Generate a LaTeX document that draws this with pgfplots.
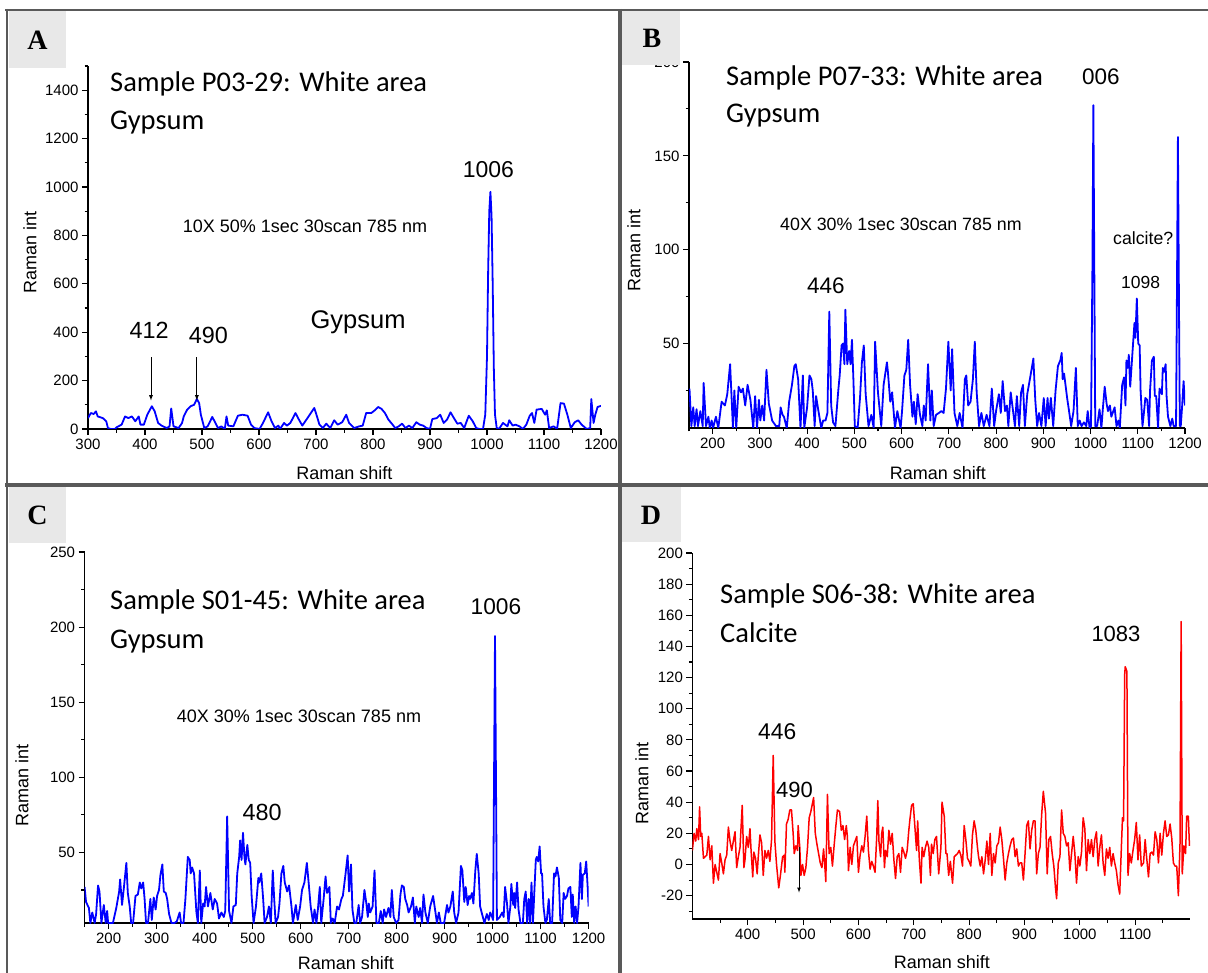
\documentclass[border=0pt]{standalone}
\usepackage{fontspec}
\setmainfont{Liberation Sans}
\newfontfamily\calibri{Carlito}
\newfontfamily\serifface{Liberation Serif}
\usepackage{pgfplots}
\pgfplotsset{compat=1.18}
\definecolor{framegray}{HTML}{595959}
\definecolor{boxgray}{HTML}{E8E8E8}
\pgfplotsset{panel/.style={
  scale only axis, anchor=south west,
  axis x line*=bottom, axis y line*=left,
  axis line style={-, line width=1.3pt, black},
  tick align=outside,
  major tick length=6pt, minor tick length=3.5pt,
  tick style={black, line width=1.1pt},
  ticklabel style={font=\fontsize{15}{15}\selectfont, text=black},
  /pgf/number format/assume math mode=true,
  /pgf/number format/1000 sep={},
  every axis plot/.append style={line width=1.8pt, line join=round, mark=none},
}}
\begin{document}
\begin{tikzpicture}
\path[use as bounding box] (0pt,0pt) rectangle (1208pt,-973pt);

% ---------------- Panel A ----------------
\begin{axis}[panel, at={(88pt,-429pt)}, width=513pt, height=363pt,
  xmin=300, xmax=1200, ymin=0, ymax=1500,
  xtick={300,400,...,1200}, minor xtick={350,450,...,1150},
  ytick={0,200,...,1400}, minor ytick={100,300,...,1500}]
\addplot[blue] coordinates {(300,45)(305,66)(310,62)(314,73)(317,52)(326,45)(332,32)(335,4)(340,0)(347,0)(350,7)(359,18)(365,52)(371,45)(377,52)(383,32)(389,52)(392,18)(398,18)(404,59)(412,94)(417,73)(423,25)(429,14)(438,4)(443,10)(446,85)(450,11)(459,4)(465,25)(468,52)(474,80)(480,94)(486,100)(491,124)(495,107)(498,59)(504,4)(510,11)(518,50)(522,32)(528,4)(534,11)(540,0)(543,52)(546,14)(555,11)(563,55)(571,59)(580,55)(586,18)(592,4)(601,0)(607,25)(616,69)(622,32)(628,4)(634,14)(637,0)(644,25)(649,14)(655,25)(664,66)(670,39)(676,14)(685,45)(693,73)(697,87)(702,50)(706,18)(712,4)(718,22)(725,4)(732,36)(738,18)(746,28)(753,59)(758,25)(767,4)(776,11)(782,14)(788,66)(797,66)(803,77)(809,91)(815,83)(821,66)(827,39)(833,22)(839,4)(845,11)(851,22)(857,4)(863,14)(869,4)(876,28)(882,18)(888,14)(894,4)(900,0)(904,41)(912,45)(918,59)(924,25)(930,39)(936,69)(942,45)(948,22)(954,25)(960,4)(968,55)(975,32)(981,4)(987,0)(993,0)(997,60)(1000,300)(1002,650)(1004,900)(1006,980)(1008,880)(1010,600)(1012,250)(1014,60)(1017,5)(1021,0)(1028,25)(1036,11)(1039,36)(1045,14)(1050,18)(1057,11)(1063,0)(1069,18)(1075,55)(1079,66)(1083,25)(1087,80)(1096,83)(1102,59)(1105,77)(1109,4)(1117,11)(1123,0)(1129,107)(1135,105)(1141,59)(1147,4)(1154,28)(1160,36)(1166,18)(1175,0)(1181,4)(1183,124)(1187,25)(1190,59)(1194,91)(1198,94)(1200,96)};
\draw[-latex, line width=0.8pt] (axis cs:410.5,296) -- (axis cs:410.5,118);
\draw[-latex, line width=0.8pt] (axis cs:491,296) -- (axis cs:491,118);
\end{axis}

% ---------------- Panel B ----------------
\begin{axis}[panel, at={(689pt,-428pt)}, width=496pt, height=366pt,
  xmin=150, xmax=1200, ymin=5, ymax=200,
  xtick={200,300,...,1200}, minor xtick={150,250,...,1150},
  ytick={50,100,150,200}, minor ytick={25,75,125,175}]
\addplot[blue] coordinates {(151,26)(155,6)(159,16)(162,6)(166,15)(169,6)(174,14)(179,6)(181,29)(186,6)(191,11)(194,5)(198,9)(201,5)(207,11)(212,5)(219,19)(226,17)(231,23)(237,39)(243,5)(246,25)(250,5)(255,27)(260,24)(264,26)(269,17)(274,28)(280,20)(286,5)(290,22)(294,5)(298,20)(301,9)(305,17)(309,9)(314,36)(319,18)(326,9)(334,6)(341,6)(344,16)(348,12)(351,11)(357,5)(362,19)(368,28)(373,38)(376,39)(381,31)(386,5)(391,33)(394,5)(400,16)(405,33)(409,31)(412,25)(416,6)(419,22)(424,14)(430,5)(434,9)(439,9)(443,13)(447,67)(451,17)(455,8)(460,6)(466,25)(469,33)(473,49)(476,50)(479,39)(481,68)(485,39)(489,46)(492,39)(495,52)(498,31)(501,6)(507,5)(512,21)(516,40)(520,49)(524,23)(530,6)(536,12)(541,5)(544,51)(550,24)(557,6)(562,28)(569,40)(571,35)(576,19)(580,24)(586,5)(591,14)(598,5)(601,14)(606,33)(610,36)(614,52)(618,28)(623,11)(626,19)(630,7)(634,23)(639,12)(644,6)(647,17)(651,9)(656,39)(661,9)(664,25)(668,6)(673,12)(679,13)(684,14)(689,13)(694,26)(699,51)(704,25)(707,47)(712,13)(718,6)(723,13)(729,5)(734,31)(737,33)(741,17)(746,19)(751,31)(755,51)(759,24)(764,6)(769,13)(774,6)(780,12)(786,6)(791,26)(796,6)(800,14)(806,23)(810,13)(814,30)(819,14)(823,17)(826,6)(831,24)(836,14)(840,6)(844,22)(849,6)(853,24)(857,28)(861,6)(866,23)(873,33)(879,42)(883,20)(887,6)(891,13)(896,6)(901,21)(905,6)(909,21)(912,10)(916,21)(921,6)(926,25)(931,38)(936,41)(939,45)(941,31)(944,34)(948,26)(951,20)(954,15)(959,6)(964,14)(969,37)(973,6)(977,9)(981,6)(986,8)(991,6)(994,14)(998,5)(1001,6)(1004,90)(1006,177)(1008,90)(1010,6)(1014,6)(1019,15)(1023,5)(1026,15)(1030,27)(1034,18)(1037,14)(1041,17)(1044,11)(1051,16)(1055,6)(1059,9)(1062,5)(1067,28)(1071,32)(1074,17)(1076,41)(1079,37)(1081,44)(1084,27)(1089,46)(1093,61)(1095,53)(1098,74)(1101,50)(1104,49)(1106,25)(1110,6)(1113,13)(1116,21)(1120,20)(1124,6)(1126,25)(1130,41)(1134,43)(1136,22)(1139,22)(1143,5)(1146,26)(1151,23)(1153,37)(1156,35)(1159,39)(1161,22)(1164,11)(1169,6)(1173,10)(1176,6)(1181,6)(1183,80)(1185,160)(1187,80)(1189,6)(1191,6)(1194,17)(1197,30)(1200,17)};
\end{axis}

% ---------------- Panel C ----------------
\begin{axis}[panel, at={(84.6pt,-923pt)}, width=504pt, height=371pt,
  xmin=150, xmax=1200, ymin=3, ymax=250,
  xtick={200,300,...,1200}, minor xtick={150,250,...,1150},
  ytick={50,100,...,250}, minor ytick={25,75,...,225}]
\addplot[blue] coordinates {(150,27)(153,17)(159,13)(162,3)(166,10)(171,3)(174,9)(178,28)(181,24)(185,3)(190,15)(194,3)(197,11)(199,3)(209,3)(216,13)(222,24)(224,32)(228,15)(232,27)(237,43)(240,23)(244,14)(247,3)(251,3)(256,21)(261,22)(265,30)(268,26)(272,30)(275,19)(278,3)(282,3)(287,19)(290,5)(294,20)(298,12)(301,21)(305,25)(308,35)(312,42)(315,24)(319,23)(322,19)(326,9)(331,3)(337,3)(342,4)(348,10)(351,3)(356,3)(360,19)(365,47)(369,45)(371,36)(374,40)(378,36)(383,10)(386,3)(390,38)(393,3)(397,16)(400,14)(403,27)(407,14)(412,23)(417,12)(421,19)(426,16)(430,6)(435,10)(440,7)(443,11)(447,74)(451,11)(456,3)(460,14)(465,15)(468,36)(472,47)(474,58)(477,45)(480,63)(483,47)(485,42)(489,55)(492,45)(495,43)(498,21)(502,3)(507,14)(512,33)(514,30)(518,36)(522,19)(525,3)(530,7)(534,14)(538,3)(542,38)(545,19)(548,3)(553,7)(556,16)(560,36)(564,41)(567,30)(572,24)(576,28)(581,14)(584,3)(590,15)(594,5)(599,14)(603,25)(608,30)(613,43)(617,29)(621,14)(626,3)(629,12)(633,3)(636,12)(640,27)(643,3)(648,19)(652,34)(655,23)(660,27)(663,3)(667,6)(671,3)(676,14)(680,12)(685,19)(688,21)(693,34)(698,48)(701,24)(705,42)(708,12)(712,3)(716,3)(721,15)(724,3)(728,7)(733,25)(737,16)(740,7)(742,16)(745,10)(750,14)(754,38)(758,3)(763,3)(767,11)(771,3)(774,12)(778,7)(783,13)(787,7)(790,25)(794,7)(799,3)(804,5)(808,22)(811,28)(815,27)(818,19)(822,15)(825,10)(830,14)(834,20)(838,3)(841,14)(846,7)(849,13)(853,3)(856,22)(860,10)(865,3)(870,14)(876,21)(881,10)(884,3)(888,10)(892,3)(899,3)(905,15)(908,10)(912,14)(917,24)(920,10)(924,3)(929,10)(934,41)(937,38)(941,17)(944,27)(948,15)(951,21)(953,19)(957,23)(960,16)(964,38)(967,49)(971,36)(974,14)(978,9)(983,3)(988,9)(992,5)(995,10)(999,7)(1001,5)(1003,100)(1005,194)(1007,100)(1009,5)(1015,7)(1020,10)(1023,7)(1026,27)(1030,16)(1033,3)(1037,14)(1039,29)(1043,15)(1045,23)(1047,13)(1051,30)(1054,12)(1058,3)(1063,3)(1066,19)(1069,24)(1072,3)(1075,19)(1078,3)(1081,30)(1084,3)(1090,45)(1092,47)(1095,44)(1098,54)(1101,36)(1103,36)(1106,14)(1110,3)(1113,5)(1117,19)(1120,3)(1124,3)(1128,36)(1131,34)(1134,40)(1138,33)(1141,5)(1145,3)(1148,23)(1151,19)(1155,21)(1158,26)(1162,27)(1165,7)(1167,22)(1170,3)(1173,14)(1176,3)(1179,14)(1183,43)(1186,19)(1188,35)(1192,36)(1195,44)(1198,27)(1200,14)};
\end{axis}

% ---------------- Panel D ----------------
\begin{axis}[panel, at={(692.4pt,-919pt)}, width=497.6pt, height=366pt,
  xmin=300, xmax=1199, ymin=-35, ymax=200,
  xtick={400,500,...,1100}, minor xtick={350,450,...,1150},
  ytick={-20,0,...,200}, minor ytick={-30,-10,...,190},
  every axis plot/.append style={line width=1.5pt}]
\addplot[red] coordinates {(300,9)(303,20)(306,15)(308,23)(311,16)(313,37)(315,18)(317,20)(320,4)(323,5)(326,6)(329,18)(332,3)(335,12)(338,-12)(341,0)(344,-5)(347,-10)(350,7)(353,1)(356,-6)(359,3)(362,6)(365,24)(368,15)(371,9)(374,15)(377,21)(380,-2)(383,5)(386,11)(390,38)(393,-2)(395,3)(398,18)(401,11)(404,23)(406,9)(409,-8)(411,8)(414,4)(417,-6)(419,5)(422,19)(425,14)(428,-7)(431,9)(434,4)(437,9)(440,2)(443,16)(446,70)(449,15)(452,0)(456,-15)(459,-7)(463,5)(466,6)(467,-5)(470,26)(473,29)(476,35)(479,35)(482,20)(484,7)(487,12)(490,9)(491,25)(494,11)(496,-7)(499,0)(502,-7)(505,-2)(508,11)(511,30)(514,34)(519,43)(522,20)(525,13)(528,7)(531,1)(534,-2)(537,10)(540,-5)(541,-11)(544,45)(547,7)(550,11)(553,-1)(556,12)(559,24)(562,35)(566,34)(569,22)(572,25)(575,16)(578,25)(580,18)(582,-4)(585,11)(588,0)(591,12)(594,15)(597,18)(600,-5)(603,6)(606,12)(609,8)(612,18)(615,31)(618,9)(621,-3)(624,2)(627,-1)(630,-5)(633,18)(635,41)(637,15)(640,5)(642,20)(644,24)(647,-2)(649,9)(652,5)(655,22)(658,13)(661,20)(664,3)(667,-9)(670,5)(673,7)(676,-5)(679,11)(682,8)(685,4)(688,9)(691,22)(693,29)(696,38)(699,39)(702,24)(705,9)(707,28)(710,3)(713,-12)(715,11)(718,5)(721,11)(724,15)(727,11)(730,-7)(732,13)(735,7)(738,16)(741,18)(745,-6)(749,11)(751,40)(755,31)(758,7)(760,7)(763,-7)(766,2)(770,-12)(773,5)(776,6)(779,7)(782,9)(785,6)(788,-1)(791,25)(794,16)(797,4)(800,2)(803,-1)(806,19)(809,28)(812,22)(815,11)(817,5)(820,-1)(823,5)(826,-6)(829,3)(832,15)(835,0)(838,20)(841,-7)(844,7)(847,1)(850,12)(853,14)(856,24)(859,16)(862,4)(865,-10)(868,1)(871,7)(874,12)(877,16)(880,17)(883,5)(886,10)(889,-1)(892,1)(895,1)(898,-10)(901,7)(904,25)(907,28)(910,10)(913,22)(916,28)(919,28)(922,-6)(925,7)(928,11)(931,32)(934,47)(938,33)(941,-6)(944,16)(947,18)(950,7)(953,-1)(956,-15)(958,-22)(961,1)(964,5)(967,35)(970,20)(973,18)(976,12)(979,14)(982,-4)(985,7)(988,18)(991,7)(994,-12)(997,5)(1000,-1)(1003,8)(1006,30)(1009,23)(1012,-4)(1015,16)(1018,7)(1021,16)(1024,5)(1027,16)(1030,21)(1033,-1)(1036,11)(1039,19)(1042,1)(1045,-7)(1048,10)(1051,4)(1054,11)(1057,-1)(1060,7)(1063,1)(1066,-4)(1069,-13)(1072,-19)(1075,11)(1077,30)(1079,28)(1081,122)(1082,127)(1085,124)(1087,-7)(1090,7)(1093,1)(1096,9)(1099,16)(1102,27)(1105,3)(1108,19)(1111,-1)(1115,1)(1118,16)(1120,7)(1124,-8)(1127,7)(1130,8)(1133,6)(1136,21)(1139,16)(1142,1)(1145,20)(1148,6)(1151,20)(1154,28)(1157,18)(1160,19)(1163,26)(1166,17)(1169,1)(1172,-1)(1175,-1)(1178,-20)(1181,14)(1183,156)(1185,-6)(1188,12)(1191,7)(1193,31)(1196,31)(1198,12)};
\draw[-latex, line width=0.7pt] (axis cs:492.6,11) -- (axis cs:492.6,-18);
\end{axis}

% ---------------- frames, labels, texts ----------------
\begin{scope}[x=1pt,y=-1pt]
\draw[framegray, line width=2.5pt] (5,10) -- (1212,10);
\draw[framegray, line width=2.5pt] (7,9) -- (7,980);
\draw[framegray, line width=3.5pt] (620,9) -- (620,980);
\draw[framegray, line width=3pt] (5,485) -- (1212,485);
\fill[boxgray] (8.5,11.5) rectangle (66,68);
\fill[boxgray] (622,11.5) rectangle (680,65);
\fill[boxgray] (8.5,487) rectangle (66,543);
\fill[boxgray] (622,487) rectangle (681,542);
\node[font=\fontsize{28}{28}\selectfont\serifface\bfseries] at (37.5,40) {A};
\node[font=\fontsize{28}{28}\selectfont\serifface\bfseries] at (652,38) {B};
\node[font=\fontsize{28}{28}\selectfont\serifface\bfseries] at (37.5,515) {C};
\node[font=\fontsize{28}{28}\selectfont\serifface\bfseries] at (651,515) {D};

% axis labels
\node[rotate=90, font=\fontsize{18}{18}\selectfont] at (30,252) {Raman int};
\node[font=\fontsize{18}{18}\selectfont] at (344.5,473) {Raman shift};
\node[rotate=90, font=\fontsize{18}{18}\selectfont] at (634,250) {Raman int};
\node[font=\fontsize{18}{18}\selectfont] at (938,473) {Raman shift};
\node[rotate=90, font=\fontsize{18}{18}\selectfont] at (22,785) {Raman int};
\node[font=\fontsize{18}{18}\selectfont] at (346,963) {Raman shift};
\node[rotate=90, font=\fontsize{18}{18}\selectfont] at (642,783) {Raman int};
\node[font=\fontsize{18}{18}\selectfont] at (942,962) {Raman shift};

% panel A texts
\node[anchor=base west, inner sep=0, font=\fontsize{28.5}{30}\selectfont\calibri] at (110,92) {Sample P03-29: White area};
\node[anchor=base west, inner sep=0, font=\fontsize{28.5}{30}\selectfont\calibri] at (110,130) {Gypsum};
\node[anchor=base west, inner sep=0, font=\fontsize{23}{23}\selectfont] at (462.6,177.3) {1006};
\node[anchor=base west, inner sep=0, font=\fontsize{18}{18}\selectfont] at (182.7,232.3) {10X 50\% 1sec 30scan 785 nm};
\node[anchor=base west, inner sep=0, font=\fontsize{25.5}{25.5}\selectfont] at (310.4,328.3) {Gypsum};
\node[anchor=base west, inner sep=0, font=\fontsize{23.4}{23.4}\selectfont] at (129.3,339) {412};
\node[anchor=base west, inner sep=0, font=\fontsize{23.4}{23.4}\selectfont] at (188.6,344) {490};

% panel B texts
\node[anchor=base west, inner sep=0, font=\fontsize{28.5}{30}\selectfont\calibri] at (726,86) {Sample P07-33: White area};
\node[anchor=base west, inner sep=0, font=\fontsize{28.5}{30}\selectfont\calibri] at (726,123) {Gypsum};
\node[anchor=base west, inner sep=0, font=\fontsize{22.5}{22.5}\selectfont] at (1082,85) {006};
\node[anchor=base west, inner sep=0, font=\fontsize{17.8}{17.8}\selectfont] at (780,230.7) {40X 30\% 1sec 30scan 785 nm};
\node[anchor=base west, inner sep=0, font=\fontsize{17.7}{17.7}\selectfont] at (1113,244.3) {calcite?};
\node[anchor=base west, inner sep=0, font=\fontsize{17.5}{17.5}\selectfont] at (1121,288.7) {1098};
\node[anchor=base west, inner sep=0, font=\fontsize{22.5}{22.5}\selectfont] at (807,294) {446};

% panel C texts
\node[anchor=base west, inner sep=0, font=\fontsize{28.5}{30}\selectfont\calibri] at (110,609.3) {Sample S01-45: White area};
\node[anchor=base west, inner sep=0, font=\fontsize{28.5}{30}\selectfont\calibri] at (110,648) {Gypsum};
\node[anchor=base west, inner sep=0, font=\fontsize{22.7}{22.7}\selectfont] at (470.5,614.3) {1006};
\node[anchor=base west, inner sep=0, font=\fontsize{18}{18}\selectfont] at (176.7,722.3) {40X 30\% 1sec 30scan 785 nm};
\node[anchor=base west, inner sep=0, font=\fontsize{23.4}{23.4}\selectfont] at (242.4,820.7) {480};

% panel D texts
\node[anchor=base west, inner sep=0, font=\fontsize{28.5}{30}\selectfont\calibri] at (720,603.3) {Sample S06-38: White area};
\node[anchor=base west, inner sep=0, font=\fontsize{28.5}{30}\selectfont\calibri] at (720,642.3) {Calcite};
\node[anchor=base west, inner sep=0, font=\fontsize{22}{22}\selectfont] at (1091.3,641) {1083};
\node[anchor=base west, inner sep=0, font=\fontsize{22.8}{22.8}\selectfont] at (758,739.3) {446};
\node[anchor=base west, inner sep=0, font=\fontsize{22}{22}\selectfont] at (776,797.7) {490};
\end{scope}
\end{tikzpicture}
\end{document}
